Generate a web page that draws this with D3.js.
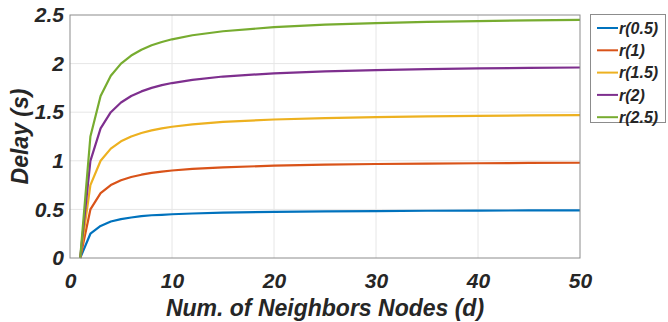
<!DOCTYPE html>
<html>
<head>
<meta charset="utf-8">
<script src="https://cdn.jsdelivr.net/npm/d3@7"></script>
<style>
  body { margin: 0; background: #fff; }
  text { font-family: "Liberation Sans", Arial, sans-serif; font-weight: bold; font-style: italic; fill: #262626; }
</style>
</head>
<body>
<div id="chart"></div>
<script>
const neighbors = [1, 2, 3, 4, 5, 6, 7, 8, 9, 10, 12, 15, 20, 25, 30, 35, 40, 45, 50];
const seriesNames = ["r(0.5)", "r(1)", "r(1.5)", "r(2)", "r(2.5)"];
const r05 = [0, 0.25, 0.33, 0.375, 0.40, 0.417, 0.43, 0.44, 0.444, 0.45, 0.458, 0.467, 0.475, 0.48, 0.483, 0.486, 0.488, 0.489, 0.49];
const r1 = [0, 0.5, 0.667, 0.75, 0.8, 0.833, 0.857, 0.875, 0.889, 0.9, 0.917, 0.933, 0.95, 0.96, 0.967, 0.971, 0.975, 0.978, 0.98];
const r15 = [0, 0.75, 1.0, 1.125, 1.2, 1.25, 1.286, 1.313, 1.333, 1.35, 1.375, 1.4, 1.425, 1.44, 1.45, 1.457, 1.463, 1.467, 1.47];
const r2 = [0, 1.0, 1.333, 1.5, 1.6, 1.667, 1.714, 1.75, 1.778, 1.8, 1.833, 1.867, 1.9, 1.92, 1.933, 1.943, 1.95, 1.956, 1.96];
const r25 = [0, 1.25, 1.667, 1.875, 2.0, 2.083, 2.143, 2.188, 2.222, 2.25, 2.292, 2.333, 2.375, 2.4, 2.417, 2.429, 2.438, 2.444, 2.45];
const xTicks = [0, 10, 20, 30, 40, 50];
const yTicks = [0, 0.5, 1, 1.5, 2, 2.5];
const colors = ["#0072BD", "#D95319", "#EDB120", "#7E2F8E", "#77AC30"];

const width = 668, height = 322;
const margin = { top: 15, right: 88, bottom: 64, left: 70 };

const svg = d3.select("#chart").append("svg")
  .attr("width", width)
  .attr("height", height);

const x = d3.scaleLinear().domain([0, 50]).range([margin.left, width - margin.right]);
const y = d3.scaleLinear().domain([0, 2.5]).range([height - margin.bottom, margin.top]);

// grid
svg.append("g")
  .selectAll("line")
  .data(xTicks.slice(1, -1))
  .join("line")
  .attr("x1", d => x(d)).attr("x2", d => x(d))
  .attr("y1", y(0)).attr("y2", y(2.5))
  .attr("stroke", "#e6e6e6").attr("stroke-width", 1);
svg.append("g")
  .selectAll("line")
  .data(yTicks.slice(1, -1))
  .join("line")
  .attr("x1", x(0)).attr("x2", x(50))
  .attr("y1", d => y(d)).attr("y2", d => y(d))
  .attr("stroke", "#e6e6e6").attr("stroke-width", 1);

// lines
const all = [r05, r1, r15, r2, r25];
const line = d3.line().x((d, i) => x(neighbors[i])).y(d => y(d));
svg.append("g")
  .selectAll("path")
  .data(all)
  .join("path")
  .attr("d", d => line(d))
  .attr("fill", "none")
  .attr("stroke", (d, i) => colors[i])
  .attr("stroke-width", 2.2)
  .attr("stroke-linejoin", "round");

// axes
const xAxis = svg.append("g")
  .attr("transform", `translate(0,${y(0)})`)
  .call(d3.axisBottom(x).tickValues(xTicks).tickSize(0).tickPadding(14));
const yAxis = svg.append("g")
  .attr("transform", `translate(${x(0)},0)`)
  .call(d3.axisLeft(y).tickValues(yTicks).tickSize(0).tickPadding(6).tickFormat(d3.format("")));
[xAxis, yAxis].forEach(g => {
  g.select(".domain").remove();
  g.selectAll("text").attr("font-size", 21).attr("fill", "#262626")
    .style("font-family", "'Liberation Sans', Arial, sans-serif")
    .style("font-weight", "bold").style("font-style", "italic");
});
xAxis.selectAll("text").attr("dy", "0.75em");

// plot box
svg.append("rect")
  .attr("x", x(0)).attr("y", y(2.5))
  .attr("width", x(50) - x(0)).attr("height", y(0) - y(2.5))
  .attr("fill", "none").attr("stroke", "#8c8c8c").attr("stroke-width", 1);

// axis titles
svg.append("text")
  .attr("x", (x(0) + x(50)) / 2).attr("y", 316)
  .attr("text-anchor", "middle").attr("font-size", 23)
  .text("Num. of Neighbors Nodes (d)");
svg.append("text")
  .attr("transform", `translate(28,${(y(0) + y(2.5)) / 2}) rotate(-90)`)
  .attr("text-anchor", "middle").attr("font-size", 23)
  .text("Delay (s)");

// legend
const lg = svg.append("g");
lg.append("rect")
  .attr("x", 590.5).attr("y", 14.5).attr("width", 75).attr("height", 108)
  .attr("fill", "#fff").attr("stroke", "#8c8c8c");
const items = lg.selectAll("g")
  .data(seriesNames)
  .join("g")
  .attr("transform", (d, i) => `translate(0,${28 + i * 22.3})`);
items.append("line")
  .attr("x1", 597).attr("x2", 618).attr("y1", 0).attr("y2", 0)
  .attr("stroke", (d, i) => colors[i]).attr("stroke-width", 2);
items.append("text")
  .attr("x", 619).attr("y", 0).attr("dy", "0.35em")
  .attr("font-size", 16)
  .text(d => d);
</script>
</body>
</html>
